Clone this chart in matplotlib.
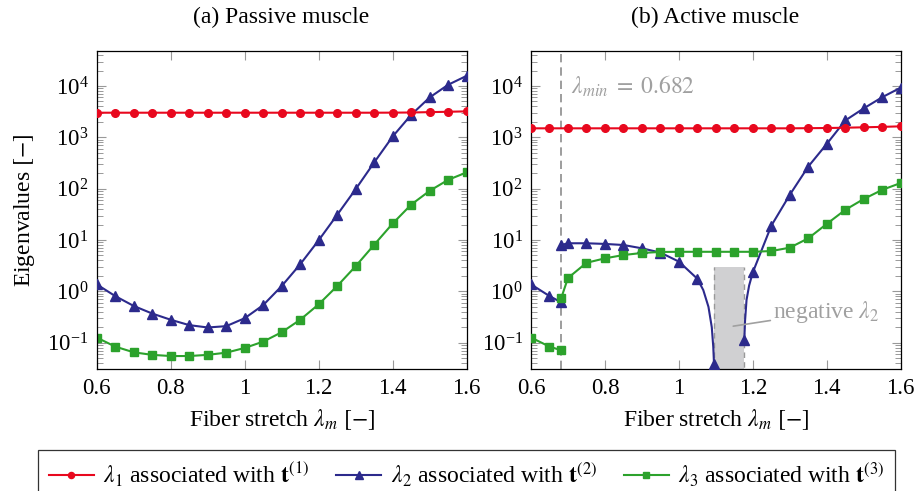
#!/usr/bin/env python3
import matplotlib
matplotlib.use('Agg')
import matplotlib.pyplot as plt
from matplotlib.lines import Line2D

plt.rcParams['font.family'] = 'serif'
plt.rcParams['font.serif'] = ['Liberation Serif', 'DejaVu Serif']
plt.rcParams['mathtext.fontset'] = 'stix'

RED = '#e8081e'
BLUE = '#2c2a8c'
GREEN = '#2ca22c'
TICK = '#999999'
FS = 17

stretch = [0.6, 0.65, 0.7, 0.75, 0.8, 0.85, 0.9, 0.95, 1.0, 1.05, 1.1,
           1.15, 1.2, 1.25, 1.3, 1.35, 1.4, 1.45, 1.5, 1.55, 1.6]

# (a) passive muscle
pas_l1 = [3020, 3020, 3020, 3020, 3020, 3020, 3020, 3020, 3020, 3020, 3020,
          3020, 3020, 3020, 3020, 3020, 3030, 3050, 3100, 3150, 3210]
pas_l2 = [1.37, 0.81, 0.52, 0.37, 0.28, 0.22, 0.198, 0.21, 0.30, 0.54, 1.27,
          3.37, 9.9, 31, 98, 325, 1040, 2750, 6000, 10600, 15800]
pas_l3 = [0.126, 0.084, 0.065, 0.058, 0.055, 0.055, 0.058, 0.064, 0.079, 0.105, 0.16,
          0.28, 0.56, 1.27, 3.1, 8.1, 21, 49, 91, 149, 208]

# (b) active muscle
lam_min = 0.682
act_l1 = [1500, 1500, 1500, 1500, 1500, 1500, 1500, 1500, 1500, 1500, 1500,
          1500, 1500, 1500, 1500, 1510, 1520, 1540, 1570, 1600, 1640]

act_l2_a_x = [0.6, 0.65, 0.682]
act_l2_a = [1.37, 0.81, 0.61]
act_l2_b_x = [0.682, 0.7, 0.75, 0.8, 0.85, 0.9, 0.95, 1.0, 1.05,
              1.066, 1.08, 1.089, 1.093, 1.095]
act_l2_b = [8.0, 8.65, 8.65, 8.4, 8.0, 6.9, 5.7, 3.8, 1.76,
            1.06, 0.50, 0.20, 0.083, 0.039]
act_l2_b_marks = [0, 1, 2, 3, 4, 5, 6, 7, 8, 13]
act_l2_c_x = [1.177, 1.179, 1.183, 1.19, 1.2, 1.25, 1.3, 1.35, 1.4, 1.45, 1.5, 1.55, 1.6]
act_l2_c = [0.115, 0.27, 0.68, 1.3, 2.35, 19, 76, 270, 745, 2130, 3670, 6050, 9300]
act_l2_c_marks = [0, 4, 5, 6, 7, 8, 9, 10, 11, 12]

act_l3_a_x = [0.6, 0.65, 0.682]
act_l3_a = [0.126, 0.084, 0.071]
act_l3_b_x = [0.682, 0.7, 0.75, 0.8, 0.85, 0.9, 0.95, 1.0, 1.05, 1.1,
              1.15, 1.2, 1.25, 1.3, 1.35, 1.4, 1.45, 1.5, 1.55, 1.6]
act_l3_b = [0.75, 1.82, 3.6, 4.4, 5.1, 5.6, 5.86, 5.9, 5.9, 5.9,
            5.9, 5.9, 6.1, 7.1, 10.8, 20.6, 38.7, 63, 95, 129]

neg_band = (1.095, 1.177)
neg_top = 3.0

STYLE1 = dict(color=RED, marker='o', markersize=5.5, lw=1.5)
STYLE2 = dict(color=BLUE, marker='^', markersize=6.5, lw=1.5)
STYLE3 = dict(color=GREEN, marker='s', markersize=5.5, lw=1.5)

W, H = 919, 491
fig = plt.figure(figsize=(W / 100, H / 100), dpi=100)
ax1 = fig.add_axes([96.7 / W, 1 - 369.3 / H, 370 / W, 318.6 / H])
ax2 = fig.add_axes([531 / W, 1 - 369.3 / H, 369.7 / W, 318.6 / H])


def style_axes(ax):
    ax.set_yscale('log')
    ax.set_xlim(0.6, 1.6)
    ax.set_ylim(10 ** -1.518, 10 ** 4.688)
    ax.set_xticks([0.6, 0.8, 1.0, 1.2, 1.4, 1.6])
    ax.set_xticklabels(['0.6', '0.8', '1', '1.2', '1.4', '1.6'])
    ax.tick_params(which='both', direction='in', top=True, right=True, color=TICK, labelsize=16.5)
    ax.tick_params(which='major', length=6.5, width=0.8, pad=6)
    ax.tick_params(which='minor', length=4, width=0.7)
    for s in ax.spines.values():
        s.set_linewidth(0.9)
    ax.set_xlabel(r'Fiber stretch $\lambda_m$ $[-]$', fontsize=FS, labelpad=6)


style_axes(ax1)
style_axes(ax2)

ax1.plot(stretch, pas_l1, **STYLE1, zorder=4)
ax1.plot(stretch, pas_l2, **STYLE2, zorder=3)
ax1.plot(stretch, pas_l3, **STYLE3, zorder=2)
ax1.set_ylabel(r'Eigenvalues $[-]$', fontsize=FS, labelpad=7.5)

ax2.fill_between(neg_band, [1e-3, 1e-3], [neg_top, neg_top], color='#d0d0d2', lw=0, zorder=1)
ax2.vlines(neg_band, 1e-3, neg_top, colors='#999999', linestyles=(0, (4, 3)), lw=1.0, zorder=1)
ax2.axvline(lam_min, color='#8c8c8c', ls=(0, (5, 3)), lw=1.2, zorder=1)

ax2.plot(act_l2_a_x, act_l2_a, **STYLE2, zorder=3)
ax2.plot(act_l2_b_x, act_l2_b, markevery=act_l2_b_marks, **STYLE2, zorder=3)
ax2.plot(act_l2_c_x, act_l2_c, markevery=act_l2_c_marks, **STYLE2, zorder=3)
ax2.plot(act_l3_a_x, act_l3_a, **STYLE3, zorder=3.5)
ax2.plot(act_l3_b_x, act_l3_b, **STYLE3, zorder=3.5)
ax2.plot(stretch, act_l1, **STYLE1, zorder=4)

ax2.text(0.707, 1e4, r'$\lambda_{min}\;=\;0.682$', color='#a0a0a0', fontsize=FS, va='center', ha='left')
ax2.annotate(r'negative $\lambda_2$', xy=(1.147, 10 ** -0.678), xytext=(1.255, 10 ** -0.40),
             color='#a0a0a0', fontsize=FS, va='center', ha='left',
             arrowprops=dict(arrowstyle='-', color='#a0a0a0', lw=1.2, shrinkA=0, shrinkB=0))

fig.text(281 / W, 1 - 17 / H, '(a) Passive muscle', fontsize=FS, ha='center', va='center')
fig.text(715 / W, 1 - 17 / H, '(b) Active muscle', fontsize=FS, ha='center', va='center')

handles = [Line2D([], [], **STYLE1), Line2D([], [], **STYLE2), Line2D([], [], **STYLE3)]
labels = [r'$\lambda_1$ associated with $\mathbf{t}^{(1)}$',
          r'$\lambda_2$ associated with $\mathbf{t}^{(2)}$',
          r'$\lambda_3$ associated with $\mathbf{t}^{(3)}$']
leg = fig.legend(handles, labels, loc='upper center', bbox_to_anchor=(466.5 / W, 1 - 450 / H),
                 ncol=3, fontsize=FS, frameon=True, fancybox=False, edgecolor='black',
                 handlelength=1.9, handletextpad=0.4, columnspacing=1.15, borderpad=0.45,
                 borderaxespad=0, markerscale=0.8)
leg.get_frame().set_linewidth(0.9)

fig.savefig('out.png', dpi=100)
